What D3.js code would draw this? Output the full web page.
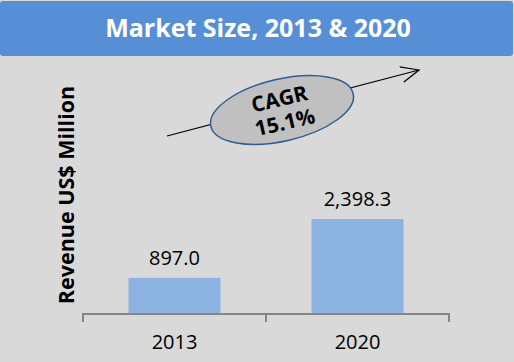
<!DOCTYPE html>
<html>
<head>
<meta charset="utf-8">
<script src="https://cdn.jsdelivr.net/npm/d3@7"></script>
<style>
  body { margin: 0; background: #d9d9d9; }
  svg { display: block; }
</style>
</head>
<body>
<script>
// chart data
var years = ["2013", "2020"];
var revenue = [897.0, 2398.3];
var valueLabels = ["897.0", "2,398.3"];
var titleText = "Market Size, 2013 & 2020";
var yTitle = "Revenue US$ Million";
var cagrLines = ["CAGR", "15.1%"];

var width = 514;
var height = 362;
var font = "'Open Sans', 'Noto Sans', sans-serif";

var svg = d3.select("body")
    .append("svg")
    .attr("width", width)
    .attr("height", height);

svg.append("rect")
    .attr("width", width)
    .attr("height", height)
    .attr("fill", "#d9d9d9");

// title banner
svg.append("rect")
    .attr("x", 0)
    .attr("y", 1)
    .attr("width", 513)
    .attr("height", 55)
    .attr("rx", 3)
    .attr("fill", "#568fd5");

svg.append("text")
    .attr("x", 258)
    .attr("y", 37)
    .attr("text-anchor", "middle")
    .attr("font-family", font)
    .attr("font-size", "25px")
    .attr("font-weight", "700")
    .attr("fill", "#ffffff")
    .text(titleText);

// scales
var axisY = 313;
var x = d3.scaleBand()
    .domain(years)
    .range([83, 449])
    .paddingInner(0)
    .paddingOuter(0);

var y = d3.scaleLinear()
    .domain([0, 2398.3])
    .range([axisY, 219]);

var barW = 92;

// bars
svg.selectAll(".bar")
    .data(revenue)
    .enter()
    .append("rect")
    .attr("class", "bar")
    .attr("x", function(d, i) { return x(years[i]) + x.bandwidth() / 2 - barW / 2; })
    .attr("y", function(d) { return y(d); })
    .attr("width", barW)
    .attr("height", function(d) { return axisY - y(d); })
    .attr("fill", "#8db3e2");

// value labels
svg.selectAll(".val")
    .data(revenue)
    .enter()
    .append("text")
    .attr("class", "val")
    .attr("x", function(d, i) { return x(years[i]) + x.bandwidth() / 2; })
    .attr("y", function(d) { return y(d) - 13; })
    .attr("text-anchor", "middle")
    .attr("font-family", font)
    .attr("font-size", "20px")
    .attr("fill", "#000")
    .text(function(d, i) { return valueLabels[i]; });

// x axis
var xAxis = d3.axisBottom(x).tickSize(0).tickPadding(22);
var gx = svg.append("g")
    .attr("transform", "translate(0," + axisY + ")")
    .call(xAxis);
gx.select(".domain").remove();
gx.selectAll("text")
    .attr("font-family", font)
    .attr("font-size", "20px")
    .attr("fill", "#000");

var tickXs = [83].concat(years.map(function(d) { return x(d) + x.bandwidth(); }));
svg.append("line")
    .attr("x1", 83).attr("x2", 449)
    .attr("y1", axisY + 1).attr("y2", axisY + 1)
    .attr("stroke", "#868686")
    .attr("stroke-width", 2);
svg.selectAll(".tk")
    .data(tickXs)
    .enter()
    .append("line")
    .attr("x1", function(d) { return d; })
    .attr("x2", function(d) { return d; })
    .attr("y1", axisY)
    .attr("y2", axisY + 9)
    .attr("stroke", "#868686")
    .attr("stroke-width", 2);

// y title
svg.append("text")
    .attr("transform", "translate(74,195) rotate(-90)")
    .attr("text-anchor", "middle")
    .attr("font-family", font)
    .attr("font-size", "21.5px")
    .attr("font-weight", "700")
    .attr("fill", "#000")
    .text(yTitle);

// CAGR arrow
svg.append("defs").append("marker")
    .attr("id", "arr")
    .attr("viewBox", "0 0 20 20")
    .attr("refX", 18)
    .attr("refY", 10)
    .attr("markerWidth", 20)
    .attr("markerHeight", 20)
    .attr("markerUnits", "userSpaceOnUse")
    .attr("orient", "auto")
    .append("path")
    .attr("d", "M0,2 L18,10 L0,18")
    .attr("fill", "none")
    .attr("stroke", "#000")
    .attr("stroke-width", 1.2);

svg.append("line")
    .attr("x1", 167).attr("y1", 136)
    .attr("x2", 419).attr("y2", 70)
    .attr("stroke", "#000")
    .attr("stroke-width", 1.2)
    .attr("marker-end", "url(#arr)");

var cg = svg.append("g")
    .attr("transform", "translate(282,110) rotate(-13)");

cg.append("ellipse")
    .attr("rx", 73)
    .attr("ry", 31)
    .attr("fill", "#c0c0c0")
    .attr("stroke", "#2f5d93")
    .attr("stroke-width", 1.5);

cg.selectAll("text")
    .data(cagrLines)
    .enter()
    .append("text")
    .attr("x", 0)
    .attr("y", function(d, i) { return -4 + i * 24; })
    .attr("text-anchor", "middle")
    .attr("font-family", font)
    .attr("font-size", "21px")
    .attr("font-weight", "700")
    .attr("fill", "#000")
    .text(function(d) { return d; });
</script>
</body>
</html>
